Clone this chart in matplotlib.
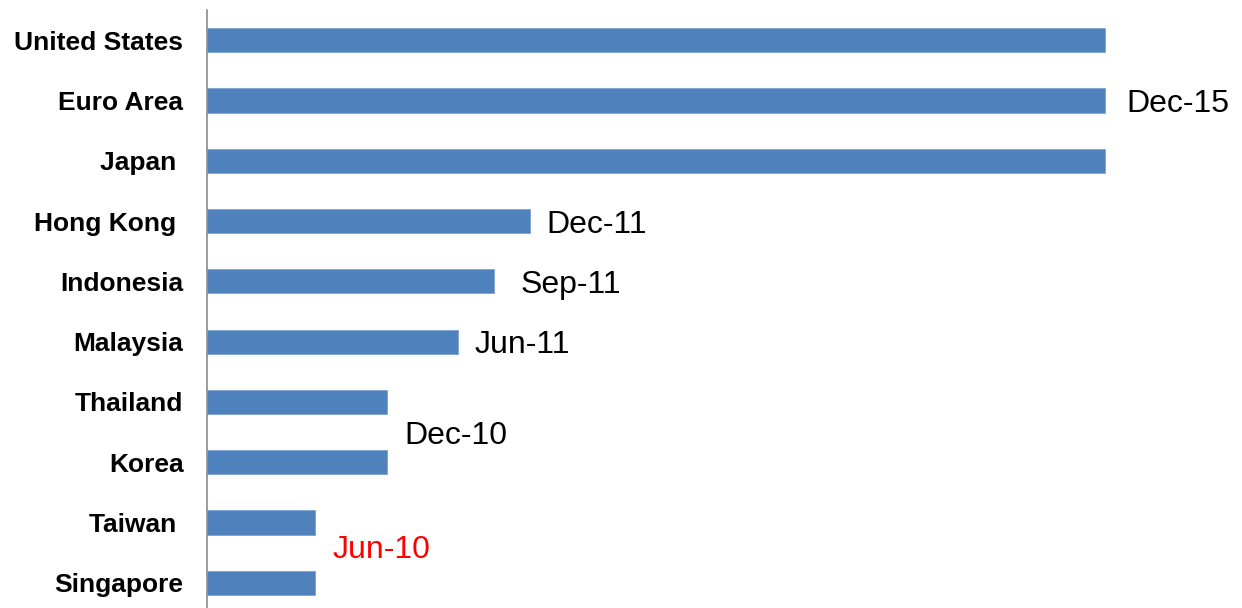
import matplotlib
matplotlib.use("Agg")
import matplotlib.pyplot as plt

countries = ["United States", "Euro Area", "Japan ", "Hong Kong ", "Indonesia",
             "Malaysia", "Thailand", "Korea", "Taiwan ", "Singapore"]
quarters = [25, 25, 25, 9, 8, 7, 5, 5, 3, 3]

hike_labels = ["Dec-15", "Dec-11", "Sep-11", "Jun-11", "Dec-10", "Jun-10"]
hike_values = [25, 9, 8, 7, 5, 3]
hike_rows = [1, 3, 4, 5, 6.5, 8.4]
hike_colors = ["black", "black", "black", "black", "black", "red"]
hike_pad = [0.6, 0.45, 0.72, 0.45, 0.5, 0.5]

plt.rcParams['font.family'] = ['Liberation Sans', 'DejaVu Sans']

fig = plt.figure(figsize=(12.42, 6.08), dpi=100)
ax = fig.add_axes([207/1242, -5/608, (1217-207)/1242, 603/608])

ypos = list(range(len(countries)))
ax.barh(ypos, quarters, height=0.4, color="#4F81BD", edgecolor="#7DA2D1", linewidth=0.6)
ax.set_ylim(len(countries) - 0.5, -0.5)
ax.set_xlim(0, 25 * (1217 - 207) / 898)
ax.set_yticks(ypos)
ax.set_yticklabels(countries, fontsize=19, fontweight="bold")
ax.tick_params(axis="y", length=0, pad=17)
ax.set_xticks([])
for s in ["top", "right", "bottom"]:
    ax.spines[s].set_visible(False)
ax.spines["left"].set_color("#8C8C8C")
ax.spines["left"].set_linewidth(1.2)

for lab, v, r, c, p in zip(hike_labels, hike_values, hike_rows, hike_colors, hike_pad):
    ax.text(v + p, r, lab, color=c, fontsize=23, va="center_baseline", ha="left")

fig.savefig("out.png", dpi=100)
